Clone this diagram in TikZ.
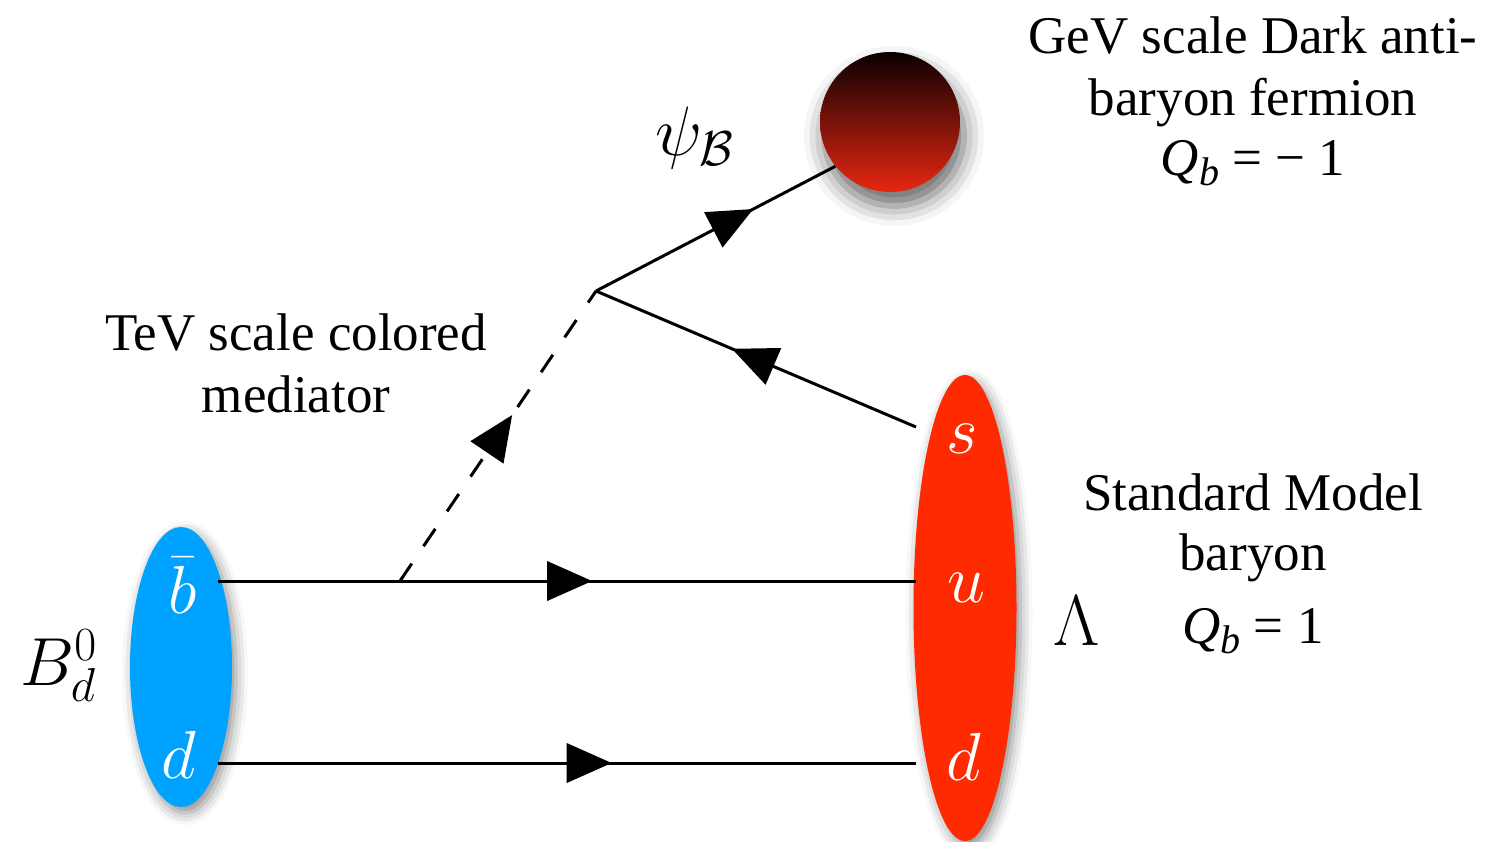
\RequirePackage{fix-cm}
\documentclass[tikz,border=0pt]{standalone}
\usepackage{fontspec}
\setmainfont{Liberation Serif}
\usetikzlibrary{shapes.geometric,shadows.blur,decorations.markings}
\definecolor{bblue}{HTML}{00A2FF}
\definecolor{lred}{HTML}{FF2A00}
\definecolor{dtop}{HTML}{0A0000}
\definecolor{dbot}{HTML}{E82612}
\tikzset{
  fline/.style={line width=1.5pt},
  arrowat/.style={postaction={decorate,decoration={markings,
      mark=at position #1 with {\fill[solid] (-22.5pt,10pt) -- (0pt,0pt) -- (-22.5pt,-10pt) -- cycle;}}}},
  txt/.style={font=\fontsize{26.5}{31}\selectfont, inner sep=0pt, anchor=base},
  qlab/.style={text=white, font=\fontsize{34}{40}\selectfont, inner sep=0pt, anchor=base},
  mlab/.style={font=\fontsize{34}{40}\selectfont, inner sep=0pt, anchor=base},
  softshadow/.style={blur shadow={shadow xshift=2pt, shadow yshift=-3pt, shadow blur radius=6pt, shadow opacity=45}},
  bigshadow/.style={blur shadow={shadow xshift=2pt, shadow yshift=-7pt, shadow blur radius=10pt, shadow opacity=60}},
}
\begin{document}
\begin{tikzpicture}[x=0.5pt,y=-0.5pt]
\useasboundingbox (0,0) rectangle (1488,841);

% hadrons and dark fermion
\node[ellipse, fill=bblue, draw=none, inner sep=0pt, minimum width=51pt, minimum height=140pt, softshadow] (bmeson) at (181,667) {};
\node[ellipse, fill=lred, draw=none, inner sep=0pt, minimum width=51.5pt, minimum height=233pt, softshadow] (lambda) at (965,608) {};
\node[circle, inner sep=0pt, minimum size=70pt, top color=dtop, bottom color=dbot, draw=none, bigshadow] (circ) at (890,122) {};

% endpoints
\coordinate (bL) at (218,581);
\coordinate (bR) at (916,581);
\coordinate (dL) at (218,763);
\coordinate (dR) at (916,763);
\coordinate (sR) at (916,427);
\coordinate (mstart) at (400,581);
\coordinate (v) at (596,291);

% fermion lines
\draw[fline, arrowat=0.536] (bL) -- (bR);
\draw[fline, arrowat=0.564] (dL) -- (dR);
\draw[fline, dash pattern=on 10.5pt off 10.5pt, arrowat=0.572] (mstart) -- (v);
\draw[fline, arrowat=0.657] (v) -- (circ.219);
\draw[fline, arrowat=0.575] (sR) -- (v);

% quark labels
\node[qlab] (qb) at (183,613) {$\bar b$};
\node[qlab] (qd1) at (179,778) {$d$};
\node[qlab] (qs) at (962,453) {$s$};
\node[qlab] (qu) at (966,602) {$u$};
\node[qlab] (qd2) at (964,780) {$d$};

% particle labels
\node[mlab, anchor=base west] (Bd) at (20,685) {$B_d^0$};
\node[mlab, font=\fontsize{36}{42}\selectfont] (Lam) at (1077,645) {$\Lambda$};
\node[mlab, font=\fontsize{35}{40}\selectfont, anchor=base west] (psi) at (655,155) {$\psi_{\mathcal{B}}$};

% descriptions
\node[txt] (tev1) at (296,350) {TeV scale colored};
\node[txt] (tev2) at (296,412) {mediator};

\node[txt] (gev1) at (1253,53) {GeV scale Dark anti-};
\node[txt] (gev2) at (1253,115) {baryon fermion};
\node[txt] (gev3) at (1253,175) {\textit{Q}{\fontsize{20}{24}\selectfont\raisebox{-5pt}{\textit{b}}} = − 1};

\node[txt] (sm1) at (1253,510) {Standard Model};
\node[txt] (sm2) at (1253,570) {baryon};
\node[txt] (sm3) at (1253,643) {\textit{Q}{\fontsize{20}{24}\selectfont\raisebox{-5pt}{\textit{b}}} = 1};
\end{tikzpicture}
\end{document}
